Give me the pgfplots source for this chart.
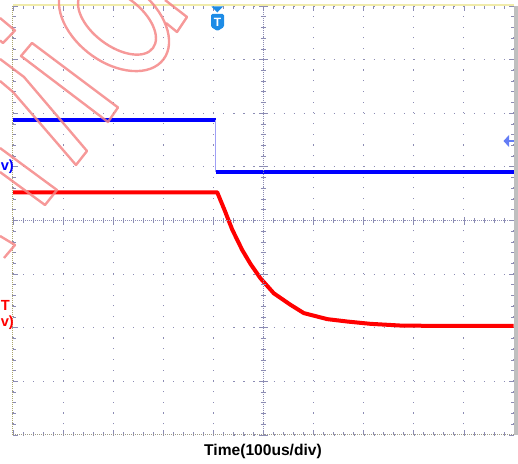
\documentclass[border=0pt]{standalone}
\usepackage{fontspec}
\setmainfont{Liberation Sans}
\usepackage{pgfplots}
\pgfplotsset{compat=1.18}

\definecolor{gridc}{RGB}{140,140,180}
\definecolor{trigc}{RGB}{30,140,230}
\definecolor{markc}{RGB}{100,125,245}
\definecolor{wmark}{RGB}{245,135,135}
\definecolor{topc}{RGB}{240,235,170}
\definecolor{leftc}{RGB}{170,165,110}
\definecolor{stepc}{RGB}{160,160,245}

\begin{document}
\begin{tikzpicture}
% screenshot is 518 x 464 px, 1 px = 0.75pt; axis box starts at px (13,435)
\useasboundingbox (-9.75pt,-21.75pt) rectangle (378.75pt,326.25pt);

\begin{axis}[at={(0,0)}, anchor=south west, scale only axis,
  width=375.75pt, height=321.75pt,
  xmin=-5, xmax=5, ymin=-4, ymax=4,
  xtick={-5,...,5}, ytick={-4,...,4},
  minor x tick num=4, minor y tick num=4,
  xticklabels={}, yticklabels={},
  tick align=inside, major tick length=3.75pt, minor tick length=1.9pt,
  tick style={gridc, line width=0.6pt},
  grid=major,
  major x grid style={gridc, line width=0.8pt, dash pattern=on 0.8pt off 7.24pt},
  major y grid style={gridc, line width=0.8pt, dash pattern=on 0.8pt off 6.715pt},
  axis line style={draw=none}, clip=false]

% CH1 (blue)
\addplot[blue, line width=3pt] coordinates {(-5,1.88) (-0.95,1.88)};
\addplot[stepc, line width=0.8pt] coordinates {(-0.95,1.88) (-0.95,0.90)};
\addplot[blue, line width=3pt] coordinates {(-0.95,0.90) (5,0.90)};

% VOUT (red)
\addplot[red, line width=3pt, line join=round] coordinates {
(-5,0.526) (-0.924,0.526) (-0.778,0.196) (-0.625,-0.168) (-0.425,-0.550)
(-0.259,-0.811) (-0.060,-1.078) (0.206,-1.358) (0.539,-1.572)
(0.805,-1.727) (1.271,-1.839) (1.671,-1.884) (2.136,-1.927)
(2.735,-1.959) (3.399,-1.965) (4.990,-1.965)};
\end{axis}

% centre cross with its ticks
\begin{axis}[at={(0,0)}, anchor=south west, scale only axis,
  width=375.75pt, height=321.75pt,
  xmin=-5, xmax=5, ymin=-4, ymax=4,
  axis lines=center,
  axis line style={-, gridc, line width=0.6pt, dash pattern=on 0.75pt off 0.75pt},
  xtick={-5,...,5}, ytick={-4,...,4},
  minor x tick num=4, minor y tick num=4,
  xticklabels={}, yticklabels={},
  tick align=center, major tick length=6pt, minor tick length=3.75pt,
  tick style={gridc, line width=0.6pt}]
\end{axis}

\begin{scope}[x=0.75pt,y=-0.75pt,shift={(-9.75pt,326.25pt)}]
% frame
\draw[topc, line width=1.5pt] (13,5.5) -- (514,5.5);
\draw[leftc, line width=0.8pt, dash pattern=on 0.75pt off 0.75pt] (12.7,6) -- (12.7,435);
\draw[leftc!60!gridc, line width=1pt, dash pattern=on 0.75pt off 0.75pt] (13,434.5) -- (514,434.5);
\fill[gray!50] (514,6) rectangle (518,435);

% trigger marker
\fill[trigc] (211.5,6.5) -- (223,6.5) -- (217.3,12.5) -- cycle;
\fill[trigc, rounded corners=1pt] (211,14) -- (224,14) -- (224,27) -- (217.5,31) -- (211,27) -- cycle;
\node[white, font={\fontsize{9}{10}\selectfont\bfseries}, inner sep=0] at (217.5,22) {T};

% reference level marker
\fill[markc] (503.5,141) -- (509,135) -- (509,147) -- cycle;
\draw[markc, line width=1.5pt] (508,141) -- (514,141);

% channel labels at the left edge
\node[anchor=base west, blue, font={\fontsize{11}{13}\selectfont\bfseries}, inner sep=0] at (0.5,171) {v)};
\node[anchor=base west, red, font={\fontsize{11}{13}\selectfont\bfseries}, inner sep=0] at (0.5,311) {T};
\node[anchor=base west, red, font={\fontsize{11}{13}\selectfont\bfseries}, inner sep=0] at (0.5,327) {v)};

\node[anchor=base, font={\fontsize{11.7}{14}\selectfont\bfseries}, inner sep=0] at (263,456) {Time(100us/div)};

% watermark
\begin{scope}[wmark, line width=1.8pt, opacity=0.85, line join=round]
\draw (0,18) -- (15,30.5) -- (3,43) -- (0,40.5);
\draw (32,43) -- (118,107.5) -- (108,122) -- (21,56) -- cycle;
\draw (0,59) -- (12,68) -- (24,77) -- (87,151) -- (76,165) -- (13,92) -- (0,81);
\draw (0,148) -- (57,190) -- (45,205) -- (0,172);
\draw (0,236) -- (15,245) -- (4,258);
\draw[shift={(114,22)}, rotate=-37] (0,0) ellipse [x radius=62, y radius=40];
\draw[shift={(117,21)}, rotate=-37] (0,0) ellipse [x radius=45, y radius=25];
\draw (165,0) -- (187,17) -- (177,32) -- (166,23);
\end{scope}
\end{scope}
\end{tikzpicture}
\end{document}
